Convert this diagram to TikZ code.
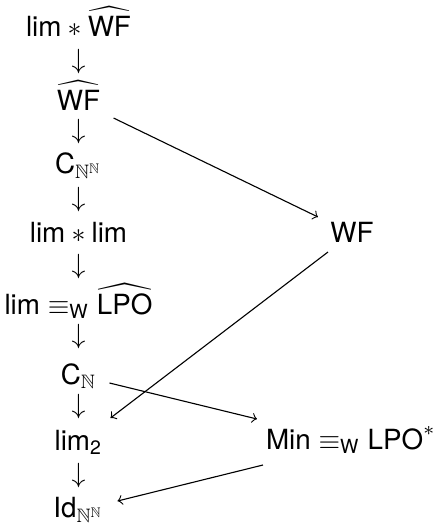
\documentclass[tikz,border=0pt]{standalone}
\usepackage{amsmath,amssymb}
\usepackage{fontspec}
\setmainfont{TeX Gyre Heros}
\begin{document}
\begin{tikzpicture}[x=0.36pt,y=-0.36pt,
  lbl/.style={inner sep=0pt,outer sep=0pt,font=\fontsize{10}{12}\selectfont},
  dn/.style={inner sep=0pt,outer sep=0pt},
  con/.style={-to,line width=0.4pt}]
\useasboundingbox (0,0) rectangle (433,523);
\node[lbl,anchor=base] (a) at (78.5,36) {$\text{lim} * \widehat{\text{WF}}$};
\node[dn] (d1) at (78.5,62) {$\downarrow$};
\node[lbl,anchor=base] (b) at (78.5,110) {$\widehat{\text{WF}}$};
\node[dn] (d2) at (78.5,132) {$\downarrow$};
\node[lbl,anchor=base] (c) at (78.5,173) {$\text{C}_{\mathbb{N}^{\mathbb{N}}}$};
\node[dn] (d3) at (78.5,200) {$\downarrow$};
\node[lbl,anchor=base] (d) at (78.5,242) {$\text{lim} * \text{lim}$};
\node[dn] (d4) at (78.5,267) {$\downarrow$};
\node[lbl,anchor=base] (e) at (78.5,314) {$\text{lim} \equiv_{\text{W}} \widehat{\text{LPO}}$};
\node[dn] (d5) at (78.5,337) {$\downarrow$};
\node[lbl,anchor=base] (f) at (78.5,384) {$\text{C}_{\mathbb{N}}$};
\node[dn] (d6) at (78.5,407) {$\downarrow$};
\node[lbl,anchor=base] (g) at (78.5,450) {$\text{lim}_{\text{2}}$};
\node[dn] (d7) at (78.5,476) {$\downarrow$};
\node[lbl,anchor=base] (h) at (78.5,517) {$\text{Id}_{\mathbb{N}^{\mathbb{N}}}$};
\node[lbl,anchor=base] (wf) at (352,242) {$\text{WF}$};
\node[lbl,anchor=base] (mn) at (351,449) {$\text{Min} \equiv_{\text{W}} \text{LPO}^{*}$};
\draw[con] ([shift={(35,8)}]b.base) -- ([shift={(-34,-25)}]wf.base);
\draw[con] ([shift={(-24,10)}]wf.base) -- ([shift={(32,-32)}]g.base);
\draw[con] ([shift={(31,-1)}]f.base) -- ([shift={(-94,-30)}]mn.base);
\draw[con] ([shift={(-88,16)}]mn.base) -- ([shift={(39,-16)}]h.base);
\end{tikzpicture}
\end{document}
